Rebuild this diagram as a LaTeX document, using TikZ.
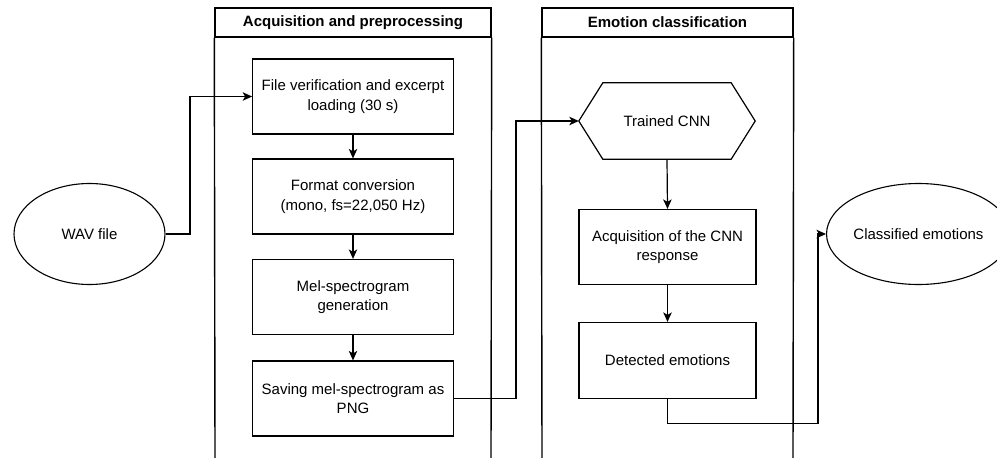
\documentclass[tikz,border=0pt]{standalone}
\usepackage{fontspec}
\setmainfont{Liberation Sans}
\usetikzlibrary{arrows.meta,calc,shapes.geometric}
\begin{document}
\begin{tikzpicture}[x=1pt,y=-1pt,
  every node/.style={font=\fontsize{15}{19.5}\selectfont, inner sep=0pt},
  lanehead/.style={draw, line width=1.4pt, minimum height=29pt, font=\fontsize{15}{19.5}\selectfont\bfseries},
  procbox/.style={draw, line width=1.2pt, minimum width=200.5pt, minimum height=75pt, align=center},
  oval/.style={draw, line width=1.1pt, ellipse, minimum width=151pt, minimum height=101pt, align=center},
  arr/.style={line width=1.2pt, -{Stealth[length=9.5pt,width=8.5pt,inset=2.5pt]}},
  lane/.style={line width=1.4pt}
]
\useasboundingbox (0,0) rectangle (997,458);
% lanes
\node[lanehead, minimum width=276pt] (h1) at (353,22.5) {Acquisition and preprocessing};
\node[lanehead, minimum width=251pt] (h2) at (667.5,22.5) {Emotion classification};
\coordinate (l1a) at (215,458); \coordinate (l1b) at (491,458);
\coordinate (l2a) at (542,458); \coordinate (l2b) at (793,458);
\draw[lane] (h1.south west) -- (l1a);
\draw[lane] (h1.south east) -- (l1b);
\draw[lane] (h2.south west) -- (l2a);
\draw[lane] (h2.south east) -- (l2b);
% ellipses
\node[oval] (wav) at (89.5,234) {WAV file};
\node[oval] (out) at (918.5,234) {Classified emotions};
% process boxes
\node[procbox] (b1) at (353,96.5) {File verification and excerpt\\loading (30 s)};
\node[procbox] (b2) at (353,196.5) {Format conversion\\(mono, fs=22,050 Hz)};
\node[procbox] (b3) at (353,297) {Mel-spectrogram\\generation};
\node[procbox] (b4) at (353,398.5) {Saving mel-spectrogram as\\PNG};
\node[minimum width=176pt, minimum height=76pt] (cnn) at (667,121) {Trained CNN};
\draw[line width=1.2pt] (cnn.west) -- ([xshift=24pt]cnn.north west) -- ([xshift=-24pt]cnn.north east) -- (cnn.east) -- ([xshift=-24pt]cnn.south east) -- ([xshift=24pt]cnn.south west) -- cycle;
\node[procbox, minimum width=177pt] (b5) at (667.5,247) {Acquisition of the CNN\\response};
\node[procbox, minimum width=177pt, minimum height=76pt] (b6) at (667.5,360.5) {Detected emotions};
% connectors
\coordinate (c1) at (190,234);
\coordinate (c2) at (516,398.5);
\coordinate (c3) at (818,423.5);
\draw[arr] (wav.east) -- (c1) |- (b1.west);
\draw[arr] (b1) -- (b2);
\draw[arr] (b2) -- (b3);
\draw[arr] (b3) -- (b4);
\draw[arr] (b4.east) -- (c2) |- (cnn.west);
\draw[arr] (cnn.south) -- (b5.north);
\draw[arr] (b5) -- (b6);
\draw[arr] (b6.south) |- (c3) |- (out.west);
\end{tikzpicture}
\end{document}
